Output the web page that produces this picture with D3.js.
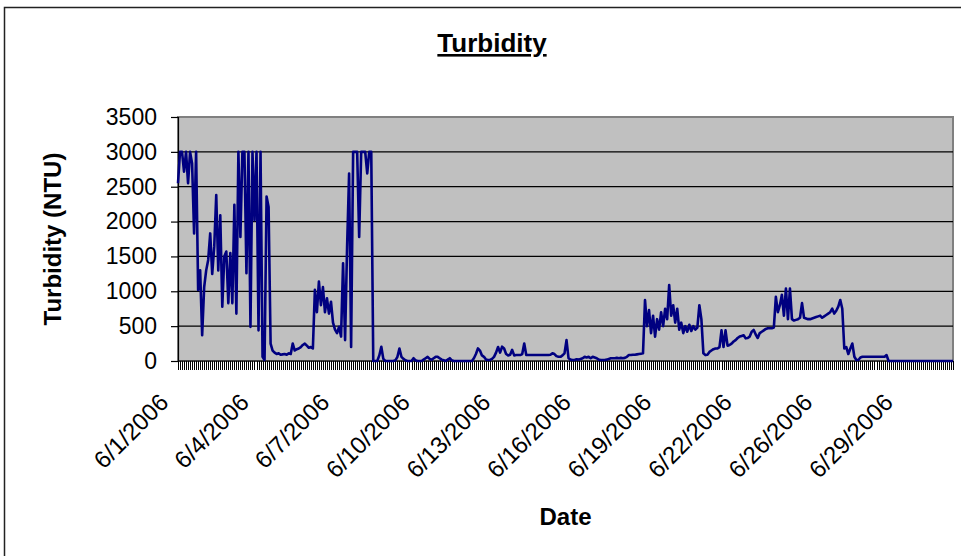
<!DOCTYPE html>
<html>
<head>
<meta charset="utf-8">
<script src="https://cdn.jsdelivr.net/npm/d3@7"></script>
<style>
  body { margin: 0; background: #fff; }
  text { font-family: "Liberation Sans", Arial, sans-serif; fill: #000; }
</style>
</head>
<body>
<div id="chart"></div>
<script>
// Turbidity readings, one per category on the x axis
var turbidity = [
  2550, 3000, 3000, 2715, 3000, 2550, 3000, 2835, 1830, 3000,
  1020, 1300, 370, 1060, 1300, 1450, 1830, 1250, 1640, 2380,
  1300, 2090, 780, 1500, 1570, 830, 1550, 830, 2240, 680,
  3000, 1780, 3000, 3000, 1260, 3000, 490, 3000, 2020, 3000,
  440, 3000, 60, 15, 2360, 2210, 250, 150, 120, 100,
  110, 90, 95, 100, 90, 110, 100, 250, 150, 170,
  180, 200, 230, 250, 220, 190, 200, 180, 1020, 700,
  1140, 800, 1060, 700, 900, 680, 850, 550, 450, 400,
  490, 350, 1400, 300, 1640, 2690, 200, 3000, 3000, 3000,
  1780, 3000, 3000, 3000, 2690, 3000, 3000, 0, 0, 0,
  80, 205, 30, 0, 0, 0, 0, 0, 10, 60,
  180, 60, 30, 10, 0, 0, 0, 40, 10, 0,
  0, 0, 20, 40, 60, 30, 20, 40, 60, 60,
  40, 20, 10, 0, 20, 40, 10, 0, 0, 0,
  0, 0, 0, 0, 0, 0, 0, 40, 100, 180,
  150, 80, 60, 20, 15, 15, 30, 60, 120, 200,
  120, 205, 180, 100, 80, 90, 160, 80, 85, 85,
  85, 100, 250, 85, 85, 85, 85, 85, 85, 85,
  85, 85, 85, 85, 85, 90, 110, 100, 70, 60,
  60, 80, 110, 300, 40, 20, 15, 15, 25, 20,
  30, 40, 60, 50, 60, 40, 60, 50, 40, 20,
  15, 15, 15, 20, 30, 40, 40, 40, 45, 40,
  45, 40, 45, 60, 85, 85, 90, 90, 95, 100,
  105, 110, 875, 500, 730, 400, 650, 350, 600, 450,
  700, 500, 750, 600, 1090, 650, 800, 550, 750, 450,
  550, 400, 500, 420, 520, 430, 500, 450, 480, 800,
  600, 110, 85, 90, 130, 150, 170, 180, 180, 200,
  440, 200, 440, 220, 230, 250, 280, 300, 330, 350,
  360, 370, 325, 330, 350, 420, 445, 380, 330, 400,
  420, 440, 460, 470, 470, 470, 480, 920, 700, 800,
  950, 650, 1040, 600, 1040, 600, 580, 590, 600, 620,
  830, 620, 610, 600, 600, 610, 620, 630, 640, 650,
  620, 640, 660, 680, 700, 750, 680, 720, 780, 875,
  750, 180, 200, 100, 180, 250, 60, 15, 15, 50,
  60, 60, 60, 60, 60, 60, 60, 60, 60, 60,
  60, 60, 85, 0, 0, 0, 0, 0, 0, 0,
  0, 0, 0, 0, 0, 0, 0, 0, 0, 0,
  0, 0, 0, 0, 0, 0, 0, 0, 0, 0,
  0, 0, 0, 0, 0, 0
];

// date labels and the category they sit on
var dateLabels = ["6/1/2006", "6/4/2006", "6/7/2006", "6/10/2006", "6/13/2006",
  "6/16/2006", "6/19/2006", "6/22/2006", "6/26/2006", "6/29/2006"];
var labelIndex = [0, 40, 80, 120, 160, 200, 240, 280, 320, 360];

var yTicks = [0, 500, 1000, 1500, 2000, 2500, 3000, 3500];

var svgWidth = 961;
var svgHeight = 556;

var plot = { left: 178, right: 953, top: 117, bottom: 361 };

var svg = d3.select("#chart")
  .append("svg")
  .attr("width", svgWidth)
  .attr("height", svgHeight);

// outer chart frame
svg.append("rect")
  .attr("x", 4.5)
  .attr("y", 7.5)
  .attr("width", 1200)
  .attr("height", 1200)
  .attr("fill", "#fff")
  .attr("stroke", "#222")
  .attr("stroke-width", 1.5);

var xScale = d3.scaleLinear()
  .domain([0, turbidity.length - 1])
  .range([plot.left, plot.right]);

var yScale = d3.scaleLinear()
  .domain([0, 3500])
  .range([plot.bottom, plot.top]);

// plot area
svg.append("rect")
  .attr("x", plot.left)
  .attr("y", plot.top)
  .attr("width", plot.right - plot.left)
  .attr("height", plot.bottom - plot.top)
  .attr("fill", "#c0c0c0")
  .attr("stroke", "#808080")
  .attr("stroke-width", 2);

// gridlines
svg.append("g")
  .selectAll("line")
  .data(yTicks.filter(d => d > 0 && d < 3500))
  .enter()
  .append("line")
  .attr("x1", plot.left)
  .attr("x2", plot.right)
  .attr("y1", d => yScale(d))
  .attr("y2", d => yScale(d))
  .attr("stroke", "#000")
  .attr("stroke-width", 1.2);

// y axis
var leftAxis = d3.axisLeft(yScale)
  .tickValues(yTicks)
  .tickSize(7)
  .tickPadding(14)
  .tickFormat(d3.format("d"));

var yAxisG = svg.append("g")
  .attr("transform", `translate(${plot.left}, 0)`)
  .call(leftAxis);
yAxisG.selectAll("text")
  .attr("font-size", "23px")
  .style("font-family", "'Liberation Sans', Arial, sans-serif");
yAxisG.selectAll("line, path").attr("stroke", "#000").attr("stroke-width", 1.2);

// x axis: a tick mark under every category
var tickPath = d3.path();
d3.range(0, turbidity.length).forEach(function (i) {
  var tx = Math.round(xScale(i)) + 0.5;
  tickPath.moveTo(tx, plot.bottom);
  tickPath.lineTo(tx, plot.bottom + 9);
});
svg.append("path")
  .attr("d", tickPath.toString())
  .attr("stroke", "#000")
  .attr("stroke-width", 1)
  .attr("fill", "none");

svg.append("line")
  .attr("x1", plot.left)
  .attr("x2", plot.right)
  .attr("y1", plot.bottom)
  .attr("y2", plot.bottom)
  .attr("stroke", "#000")
  .attr("stroke-width", 1.2);

// rotated date labels
svg.append("g")
  .selectAll("text")
  .data(labelIndex)
  .enter()
  .append("text")
  .attr("transform", d => `translate(${xScale(d) - 20}, 392) rotate(-45)`)
  .attr("text-anchor", "end")
  .attr("font-size", "24px")
  .attr("dy", "0.7em")
  .text((d, i) => dateLabels[i]);

// data line
var line = d3.line()
  .x((d, i) => xScale(i))
  .y(d => yScale(d));

svg.append("path")
  .datum(turbidity)
  .attr("d", line)
  .attr("fill", "none")
  .attr("stroke", "#000080")
  .attr("stroke-width", 2.6)
  .attr("stroke-linejoin", "round");

// titles
svg.append("text")
  .attr("x", 492)
  .attr("y", 52)
  .attr("text-anchor", "middle")
  .attr("font-size", "26px")
  .attr("font-weight", "bold")
  .attr("text-decoration", "underline")
  .text("Turbidity");

svg.append("text")
  .attr("x", (plot.left + plot.right) / 2)
  .attr("y", 525)
  .attr("text-anchor", "middle")
  .attr("font-size", "24px")
  .attr("font-weight", "bold")
  .text("Date");

svg.append("text")
  .attr("transform", `translate(61, ${(plot.top + plot.bottom) / 2}) rotate(-90)`)
  .attr("text-anchor", "middle")
  .attr("font-size", "24px")
  .attr("font-weight", "bold")
  .text("Turbidity (NTU)");
</script>
</body>
</html>
